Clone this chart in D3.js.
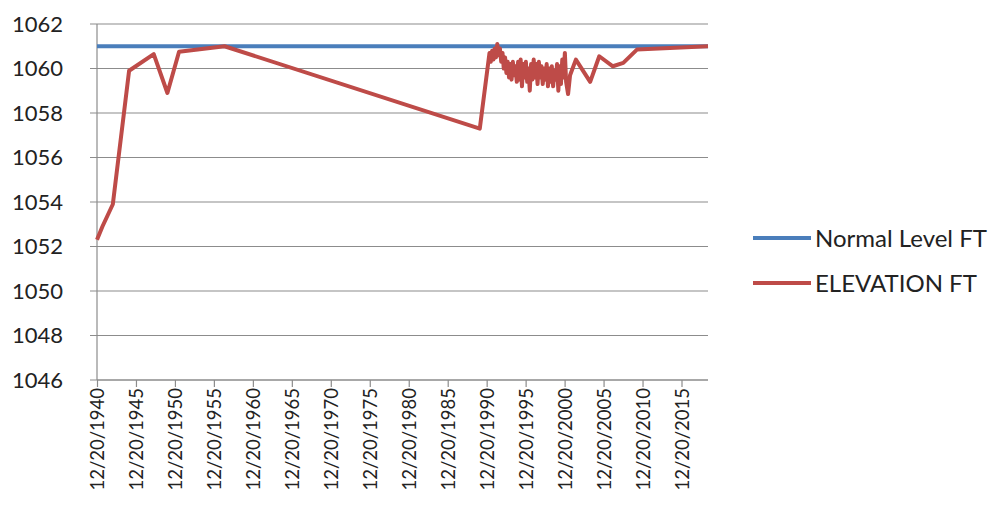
<!DOCTYPE html>
<html>
<head>
<meta charset="utf-8">
<script src="https://cdn.jsdelivr.net/npm/d3@7"></script>
<style>
  body { margin: 0; background: #fff; }
  text { font-family: Lato, "Open Sans", sans-serif; fill: #222; }
</style>
</head>
<body>
<svg width="1004" height="525"></svg>
<script>
const margin = { left: 97, right: 296, top: 24, bottom: 145 };

// Data
const seriesNames = ["Normal Level FT", "ELEVATION FT"];
const normalDates = ["1940-12-20", "2019-05-15"];
const normalValues = [1061, 1061];

const elevDates = [
  "1940-12-20", "1941-09-01", "1943-01-01", "1945-02-01", "1948-04-01",
  "1950-01-01", "1951-07-01", "1957-05-01", "1990-02-01", "1991-05-01",
  "1991-07-01", "1991-09-01", "1991-11-01", "1992-01-01", "1992-03-01",
  "1992-05-01", "1992-07-01", "1992-09-01", "1992-11-01", "1993-01-01",
  "1993-03-01", "1993-05-01", "1993-07-01", "1993-09-01", "1993-11-01",
  "1994-01-01", "1994-03-01", "1994-05-01", "1994-07-01", "1994-09-01",
  "1994-11-01", "1995-01-01", "1995-03-01", "1995-05-01", "1995-07-01",
  "1995-09-01", "1995-11-01", "1996-01-01", "1996-03-01", "1996-05-01",
  "1996-07-01", "1996-09-01", "1996-11-01", "1997-01-01", "1997-03-01",
  "1997-05-01", "1997-07-01", "1997-09-01", "1997-11-01", "1998-01-01",
  "1998-03-01", "1998-05-01", "1998-07-01", "1998-09-01", "1998-11-01",
  "1999-01-01", "1999-03-01", "1999-05-01", "1999-07-01", "1999-09-01",
  "1999-11-01", "2000-01-01", "2000-03-01", "2000-05-01", "2000-07-01",
  "2000-09-01", "2000-11-01", "2001-01-01", "2001-03-01", "2001-06-01",
  "2001-09-01", "2002-06-01", "2004-04-01", "2005-06-01", "2007-03-01",
  "2008-07-01", "2010-04-01", "2019-05-15"
];
const elevValues = [
  1052.3, 1052.9, 1053.9, 1059.9, 1060.65,
  1058.9, 1060.75, 1061.0, 1057.3, 1060.7,
  1060.3, 1060.8, 1060.4, 1060.9, 1060.5,
  1061.1, 1060.6, 1060.9, 1060.3, 1060.7,
  1060.0, 1060.5, 1059.8, 1060.3, 1059.6,
  1060.2, 1059.5, 1060.3, 1059.7, 1060.1,
  1059.4, 1060.3, 1059.5, 1060.4, 1059.2,
  1060.2, 1059.6, 1060.3, 1059.4, 1060.0,
  1059.0, 1060.2, 1059.5, 1060.4, 1059.6,
  1060.2, 1059.3, 1060.3, 1059.6, 1060.1,
  1059.3, 1060.0, 1059.5, 1060.2, 1059.2,
  1060.0, 1059.4, 1060.1, 1059.2, 1059.9,
  1059.5, 1060.2, 1059.0, 1060.1, 1059.3,
  1060.4, 1059.6, 1060.7, 1059.4, 1058.85,
  1059.7, 1060.4, 1059.4, 1060.55, 1060.1,
  1060.25, 1060.85, 1061.0
];

const yTicks = [1046, 1048, 1050, 1052, 1054, 1056, 1058, 1060, 1062];
const xTickYears = [1940, 1945, 1950, 1955, 1960, 1965, 1970, 1975, 1980, 1985, 1990, 1995, 2000, 2005, 2010, 2015];

const parse = d3.timeParse("%Y-%m-%d");
const fmt = d3.timeFormat("%-m/%-d/%Y");

const svg = d3.select('svg');
const width = +svg.attr('width');
const height = +svg.attr('height');
const innerWidth = width - margin.left - margin.right;
const innerHeight = height - margin.top - margin.bottom;

const xScale = d3.scaleTime()
  .domain([parse("1940-12-20"), parse("2019-05-15")])
  .range([0, innerWidth]);

const yScale = d3.scaleLinear()
  .domain([1046, 1062])
  .range([innerHeight, 0]);

const g = svg.append('g')
  .attr('transform', `translate(${margin.left}, ${margin.top})`);

// gridlines
g.selectAll('.grid')
  .data(yTicks)
  .enter()
  .append('line')
  .attr('x1', -7)
  .attr('x2', innerWidth)
  .attr('y1', d => yScale(d))
  .attr('y2', d => yScale(d))
  .attr('stroke', '#8c8c8c')
  .attr('stroke-width', 1.2);

// y labels
g.selectAll('.ylab')
  .data(yTicks)
  .enter()
  .append('text')
  .attr('x', -34)
  .attr('y', d => yScale(d))
  .attr('dy', '0.36em')
  .attr('text-anchor', 'end')
  .attr('font-size', 22)
  .text(d => d);

// y axis line
g.append('line')
  .attr('x1', 0).attr('x2', 0)
  .attr('y1', 0).attr('y2', innerHeight)
  .attr('stroke', '#8c8c8c')
  .attr('stroke-width', 1.2);

// x axis
const xTickDates = xTickYears.map(y => parse(y + "-12-20"));
const xAxis = d3.axisBottom(xScale)
  .tickValues(xTickDates)
  .tickSize(7)
  .tickFormat(fmt);

const xg = g.append('g')
  .attr('transform', `translate(0, ${innerHeight})`)
  .call(xAxis);
xg.select('.domain').attr('stroke', '#8c8c8c').attr('stroke-width', 1.2)
  .attr('d', `M0,0H${innerWidth}`);
xg.selectAll('.tick line').attr('stroke', '#8c8c8c').attr('stroke-width', 1.2);
xg.selectAll('.tick text')
  .attr('font-size', 18.5)
  .attr('font-family', 'Lato, sans-serif')
  .attr('fill', '#222')
  .attr('transform', 'rotate(-90)')
  .attr('x', -8)
  .attr('y', 0)
  .attr('dy', '0.36em')
  .attr('text-anchor', 'end');

// lines
const line = d3.line()
  .x(d => xScale(d.date))
  .y(d => yScale(d.value));

const normalData = normalDates.map((d, i) => ({ date: parse(d), value: normalValues[i] }));
const elevData = elevDates.map((d, i) => ({ date: parse(d), value: elevValues[i] }));
const color = d3.scaleOrdinal().domain(seriesNames).range(['#4a7ebb', '#be4b48']);

g.append('path')
  .datum(normalData)
  .attr('d', line)
  .attr('fill', 'none')
  .attr('stroke', color(seriesNames[0]))
  .attr('stroke-width', 4);

g.append('path')
  .datum(elevData)
  .attr('d', line)
  .attr('fill', 'none')
  .attr('stroke', color(seriesNames[1]))
  .attr('stroke-width', 4)
  .attr('stroke-linejoin', 'round');

// legend
const legend = svg.selectAll('.legend')
  .data(seriesNames)
  .enter()
  .append('g')
  .attr('class', 'legend')
  .attr('transform', (d, i) => `translate(753, ${238 + i * 45})`);

legend.append('line')
  .attr('x1', 0).attr('x2', 58)
  .attr('y1', 0).attr('y2', 0)
  .attr('stroke', color)
  .attr('stroke-width', 4);

legend.append('text')
  .attr('x', 62)
  .attr('y', 0)
  .attr('dy', '0.36em')
  .attr('font-size', 24)
  .text(d => d);
</script>
</body>
</html>
